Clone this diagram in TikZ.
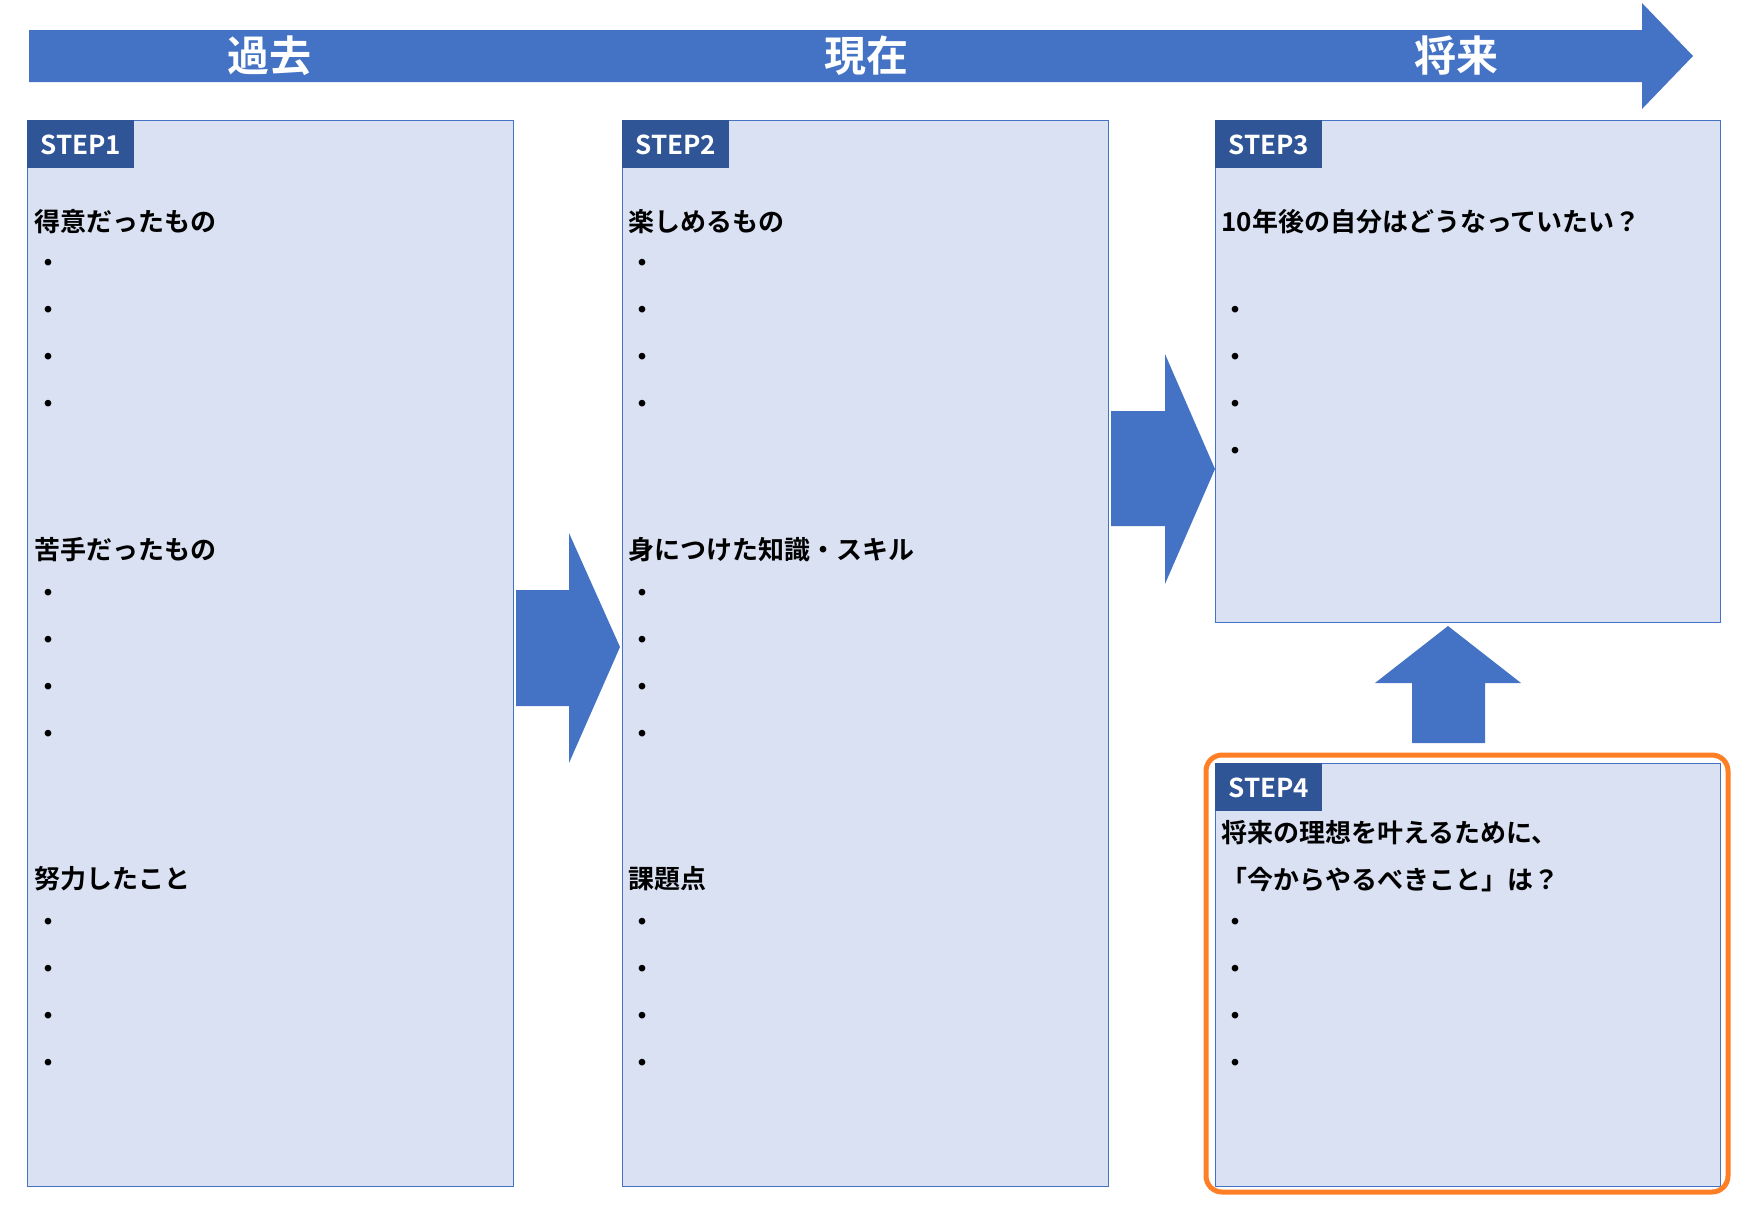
\documentclass[tikz,border=0pt]{standalone}
\usepackage{fontspec}
\setmainfont{Noto Sans CJK JP}[BoldFont={* Bold}]
\usetikzlibrary{positioning}
\definecolor{arrowblue}{HTML}{4472C4}
\definecolor{tagblue}{HTML}{2F5597}
\definecolor{boxfill}{HTML}{DAE1F2}
\definecolor{frameorange}{HTML}{FF7F27}
\tikzset{
  stepbox/.style={draw=arrowblue, fill=boxfill, line width=0.6pt, anchor=north west, inner sep=0pt},
  steptag/.style={fill=tagblue, text=white, font=\bfseries\fontsize{13}{15}\selectfont, anchor=north west, minimum width=53.5pt, minimum height=24pt, inner sep=0pt},
  heading/.style={anchor=west, font=\bfseries\fontsize{13}{15}\selectfont, inner sep=0pt},
  dotitem/.style={anchor=center, font=\bfseries\fontsize{13}{15}\selectfont, inner sep=0pt},
  timelabel/.style={text=white, font=\bfseries\fontsize{21}{24}\selectfont},
}
\begin{document}
\begin{tikzpicture}[x=0.5pt,y=-0.5pt]
  \useasboundingbox (0,0) rectangle (1756,1217);
  % time line
  \fill[arrowblue] (29,30) -- (1642,30) -- (1642,3) -- (1693,56) -- (1642,109) -- (1642,82) -- (29,82) -- cycle;
  \node[timelabel] (past) at (269,56) {過去};
  \node[timelabel] (now) at (866,56) {現在};
  \node[timelabel] (future) at (1456,56) {将来};
  % boxes
  \node[stepbox, minimum width=243pt, minimum height=533pt] (box1) at (27,120) {};
  \node[stepbox, minimum width=243pt, minimum height=533pt] (box2) at (622,120) {};
  \node[stepbox, minimum width=252.5pt, minimum height=251pt] (box3) at (1215,120) {};
  \node[stepbox, minimum width=252.5pt, minimum height=211.5pt] (box4) at (1215,763) {};
  \draw[frameorange, line width=2.5pt, rounded corners=8pt] (1206,755) rectangle (1728,1192);
  \node[steptag] (tag1) at (box1.north west) {STEP1};
  \node[steptag] (tag2) at (box2.north west) {STEP2};
  \node[steptag] (tag3) at (box3.north west) {STEP3};
  \node[steptag] (tag4) at (box4.north west) {STEP4};
  % arrows between steps
  \fill[arrowblue] (516,590) -- (569,590) -- (569,533) -- (620,647) -- (569,763) -- (569,706) -- (516,706) -- cycle;
  \fill[arrowblue] (1111,411) -- (1165,411) -- (1165,354) -- (1215,469) -- (1165,584) -- (1165,526) -- (1111,526) -- cycle;
  \fill[arrowblue] (1412,743) -- (1412,683) -- (1375,683) -- (1448,626) -- (1521,683) -- (1485,683) -- (1485,743) -- cycle;
  % step 1 and 2
  \node[heading] (like) at (34,222) {得意だったもの};
  \node[heading] (weak) at (34,550) {苦手だったもの};
  \node[heading] (effort) at (34,879) {努力したこと};
  \node[heading] (fun) at (628,222) {楽しめるもの};
  \node[heading] (skill) at (628,550) {身につけた知識・スキル};
  \node[heading] (issue) at (628,879) {課題点};
  \foreach \y in {266,313,360,407,596,643,690,737,925,972,1019,1066} {
    \node[dotitem] at (48,\y) {・};
    \node[dotitem] at (642,\y) {・};
  }
  % step 3 and 4
  \node[heading] (ideal) at (1221,222) {10年後の自分はどうなっていたい？};
  \node[heading] (todo1) at (1221,833) {将来の理想を叶えるために、};
  \node[heading] (todo2) at (1221,880) {「今からやるべきこと」は？};
  \foreach \y in {313,360,407,454,925,972,1019,1066}
    \node[dotitem] at (1235,\y) {・};
\end{tikzpicture}
\end{document}
